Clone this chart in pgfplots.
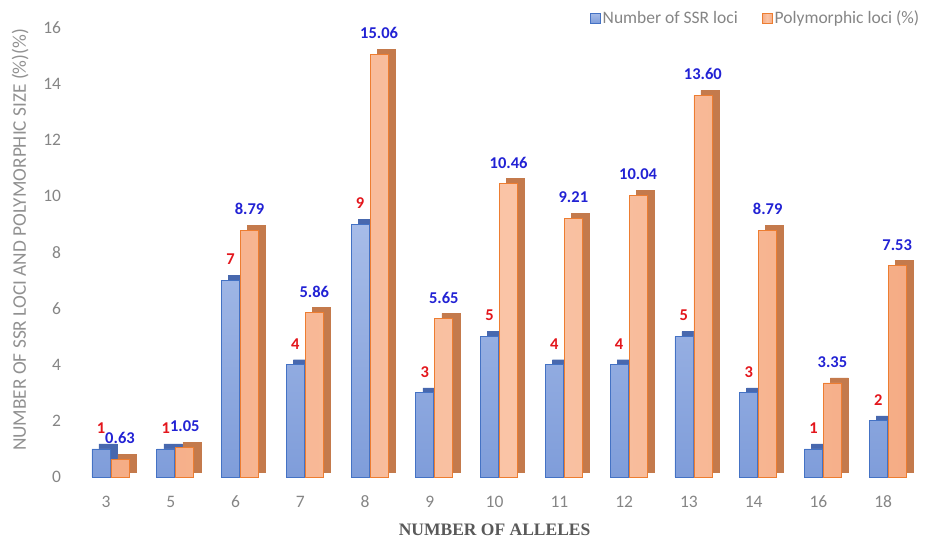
\documentclass[border=0pt]{standalone}
\usepackage{fontspec}
\setmainfont{Carlito}
\newfontfamily\titleserif{Liberation Serif}
\usepackage{pgfplots}
\usepackage{pgfplotstable}
\pgfplotsset{compat=1.18}

\definecolor{blueface}{HTML}{7F9DDA}
\definecolor{bluelight}{HTML}{A7BCE8}
\definecolor{blueedge}{HTML}{4472C4}
\definecolor{bluedepth}{HTML}{4868AE}
\definecolor{orangeface}{HTML}{F5AC85}
\definecolor{orangelight}{HTML}{FAC4A6}
\definecolor{orangeedge}{HTML}{ED7D31}
\definecolor{orangedepth}{HTML}{C47A4C}
\definecolor{labelred}{HTML}{E3161C}
\definecolor{labelblue}{HTML}{2222D4}
\definecolor{tickgray}{HTML}{858585}

\pgfplotstableread{
idx alleles loci poly
0   3   1   0.63
1   5   1   1.05
2   6   7   8.79
3   7   4   5.86
4   8   9   15.06
5   9   3   5.65
6   10  5   10.46
7   11  4   9.21
8   12  4   10.04
9   13  5   13.60
10  14  3   8.79
11  16  1   3.35
12  18  2   7.53
}\datatable

\begin{document}
\begin{tikzpicture}
\begin{axis}[
  scale only axis,
  width=842pt, height=449pt,
  xmin=-0.5, xmax=12.5, ymin=0, ymax=16,
  ytick={0,2,...,16},
  xtick={0,...,12},
  xticklabels={3,5,6,7,8,9,10,11,12,13,14,16,18},
  axis line style={draw=none},
  major tick style={draw=none},
  /pgf/number format/assume math mode=true,
  ticklabel style={font=\fontsize{17.5}{20}\selectfont, text=tickgray},
  yticklabel style={xshift=-9pt},
  xticklabel style={yshift=-11pt},
  xlabel={NUMBER OF ALLELES},
  ylabel={NUMBER OF SSR LOCI AND POLYMORPHIC SIZE (\%)(\%)},
  every axis x label/.style={at={(axis description cs:0.5,-0.118)}, anchor=center,
    font=\titleserif\bfseries\fontsize{17.5}{20}\selectfont, text=black!65},
  every axis y label/.style={at={(axis description cs:-0.0634,0.528)}, anchor=center,
    rotate=90, font=\fontsize{19.3}{22}\selectfont, text=tickgray!90},
  ybar, bar width=18pt,
  legend style={at={(0.81,1.022)}, anchor=center, draw=none, fill=none,
    font=\fontsize{17.5}{20}\selectfont, text=tickgray,
    /tikz/every even column/.append style={column sep=22pt}},
  legend columns=2,
  legend image code/.code={\draw[#1, line width=0.8pt] (0pt,-5pt) rectangle (10pt,5pt);},
]
% depth of the blue bars (drawn behind, shifted up and right)
\addplot[forget plot, bar shift=2pt, yshift=5pt, fill=bluedepth, draw=bluedepth]
  table[x=idx, y=loci]{\datatable};
% front of the blue bars
\addplot[bar shift=-5pt, draw=blueedge, line width=0.8pt,
  top color=bluelight, bottom color=blueface,
  nodes near coords,
  every node near coord/.append style={anchor=center, yshift=21pt,
    font=\bfseries\fontsize{16.5}{19}\selectfont, text=labelred}]
  table[x=idx, y=loci]{\datatable};
\addlegendentry{Number of SSR loci}
% depth of the orange bars
\addplot[forget plot, bar shift=21pt, yshift=5pt, fill=orangedepth, draw=orangedepth]
  table[x=idx, y=poly]{\datatable};
% front of the orange bars
\addplot[bar shift=14pt, draw=orangeedge, line width=0.8pt,
  left color=orangeface, right color=orangeface, middle color=orangelight,
  nodes near coords,
  every node near coord/.append style={anchor=center, yshift=21pt,
    font=\bfseries\fontsize{16.5}{19}\selectfont, text=labelblue,
    /pgf/number format/fixed, /pgf/number format/fixed zerofill,
    /pgf/number format/precision=2}]
  table[x=idx, y=poly]{\datatable};
\addlegendentry{Polymorphic loci (\%)}
\coordinate (axSW) at (rel axis cs:0,0);
\end{axis}
\pgfresetboundingbox
\path (axSW) ++(-73.6pt,-66pt) rectangle ++(942pt,543pt);
\end{tikzpicture}
\end{document}
